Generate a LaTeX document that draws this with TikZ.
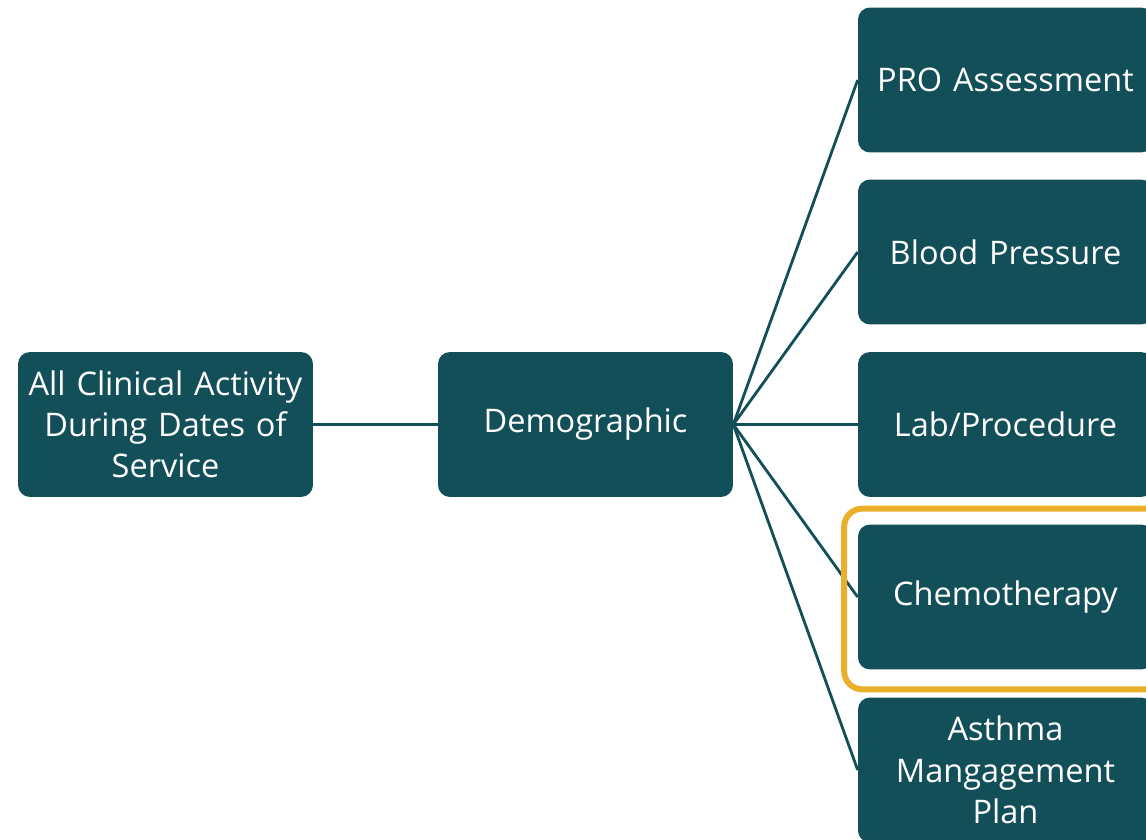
\documentclass[tikz,border=0pt]{standalone}
\usepackage{fontspec}
\setmainfont{Open Sans}
\usetikzlibrary{calc}
\definecolor{teal}{HTML}{134F58}
\definecolor{gold}{HTML}{EBB02B}

\begin{document}
\begin{tikzpicture}[x=0.02cm,y=0.02cm,
    box/.style={rectangle,rounded corners=0.24cm,fill=teal,text=white,
        minimum width=5.9cm,minimum height=2.9cm,text width=5.6cm,align=center,
        inner sep=0pt,font=\fontsize{18.5}{23.5}\selectfont},
    link/.style={teal,line width=1.6pt}]
    \useasboundingbox (0,0) rectangle (1146,-839);
    \clip (0,0) rectangle (1146,-839); % Clips the boxes at the page edge

    \node[box] (act) at (165.5,-424.5) {All Clinical Activity\\During Dates of\\Service};
    \node[box] (demo) at (585.5,-424.5) {Demographic};

    \node[box] (pro) at (1005.5,-80) {PRO Assessment};
    \node[box] (bp) at (1005.5,-252) {Blood Pressure};
    \node[box] (lab) at (1005.5,-424.5) {Lab/Procedure};
    \node[box] (chemo) at (1005.5,-597) {Chemotherapy};
    \node[box] (asthma) at (1005.5,-770) {Asthma\\Mangagement\\Plan};

    \draw[link] (act.east) -- (demo.west);
    \foreach \n in {pro,bp,lab,chemo,asthma}{
        \draw[link] (demo.east) -- (\n.west);
    }

    \draw[gold,line width=3.4pt,rounded corners=0.36cm]
        ($(chemo.north west)+(-13.5,15.5)$) rectangle ($(chemo.south east)+(13.5,-19.5)$);
\end{tikzpicture}
\end{document}
